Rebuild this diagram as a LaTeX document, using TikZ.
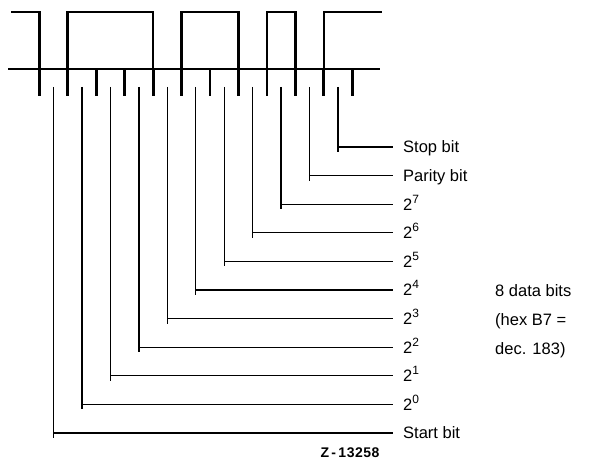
\documentclass[tikz,border=0pt]{standalone}
\usepackage{fontspec}
\setmainfont{Liberation Sans}
\begin{document}
\begin{tikzpicture}[x=1pt,y=-1pt,
  wave/.style={line width=2.6pt,line join=miter},
  bittick/.style={line width=2.8pt},
  baseln/.style={line width=1.8pt},
  lead/.style={line width=1.3pt},
  lbl/.style={anchor=base west,inner sep=0pt,font=\fontsize{16.5}{19}\selectfont},
  note/.style={anchor=base west,inner sep=0pt,font=\fontsize{16.5}{19}\selectfont},
  tag/.style={inner sep=0pt,font=\fontsize{14}{16}\selectfont\bfseries}]
\useasboundingbox (0,0) rectangle (612,462);

% bit cell boundaries
\foreach \k in {0,...,11}{
  \pgfmathsetmacro{\bx}{39.3+28.45*\k}
  \coordinate (b\k) at (\bx,69);
}
\def\hi{12}

% reference level
\coordinate (baseL) at (8,69);
\coordinate (baseR) at (380,69);
\draw[baseln] (baseL) -- (baseR);

% serial waveform: start, 1110 1101 (B7), parity 0, stop 1
\coordinate (w0) at (11,\hi);
\coordinate (w1) at (382,\hi);
\draw[wave] (w0) -- (b0 |- w0) -- (b0) -- (b1) -- (b1 |- w0)
  -- (b4 |- w0) -- (b4) -- (b5) -- (b5 |- w0)
  -- (b7 |- w0) -- (b7) -- (b8) -- (b8 |- w0)
  -- (b9 |- w0) -- (b9) -- (b10) -- (b10 |- w0) -- (w1);

% boundary ticks below the reference level
\foreach \k in {0,...,11}{
  \draw[bittick] (b\k) -- ++(0,27);
}

% sampling leads to the labels
\newcommand{\pw}[1]{2\raisebox{0.42em}{\fontsize{12}{12}\selectfont #1}}
\foreach \k/\txt in {0/{Start bit},
  1/{\pw{0}}, 2/{\pw{1}}, 3/{\pw{2}}, 4/{\pw{3}},
  5/{\pw{4}}, 6/{\pw{5}}, 7/{\pw{6}}, 8/{\pw{7}},
  9/{Parity bit},
  10/{Stop bit}}{
  \pgfmathsetmacro{\mx}{53.5+28.45*\k}
  \pgfmathsetmacro{\ly}{433-28.6*\k}
  \pgfmathsetmacro{\ty}{\ly+5.9}
  \pgfmathsetmacro{\oy}{\ly+5}
  \coordinate (s\k) at (\mx,87);
  \coordinate (e\k) at (393,\ly);
  \node[lbl] (L\k) at (403,\ty) {\txt};
  \draw[lead] (s\k) -- (s\k |- 0,\oy);
  \draw[lead] (s\k |- e\k) -- (e\k);
}

% note on the data bits
\node[note] (n1) at (495,296.9) {8 data bits};
\node[note] (n2) at (495,325.5) {(hex B7 =};
\node[note] (n3) at (495,354.1) {dec. 183)};

% figure number
\node[tag] (fig) at (350,453) {Z\,-\,1\kern0.5pt3\kern0.5pt2\kern0.5pt5\kern0.5pt8};
\end{tikzpicture}
\end{document}
